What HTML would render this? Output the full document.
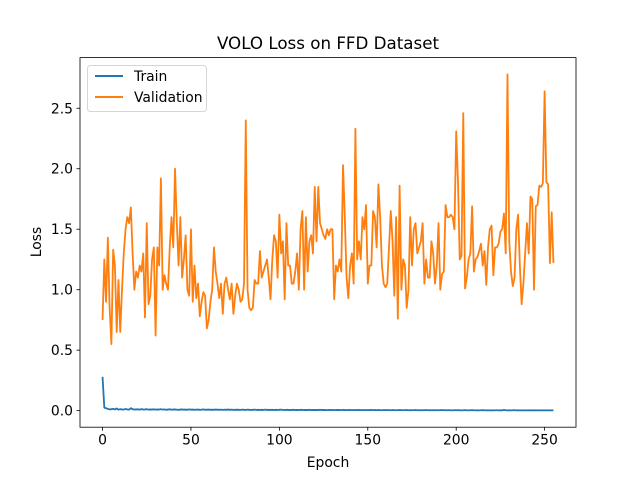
<!DOCTYPE html>
<html><head><meta charset="utf-8"><style>
body{margin:0;background:#fff}
svg{display:block;font-family:"DejaVu Sans","Liberation Sans",sans-serif}
</style></head><body>
<svg id="chart" width="640" height="480">
<rect width="640" height="480" fill="#fff"/>
<text x="328" y="49" font-size="16.7" text-anchor="middle">VOLO Loss on FFD Dataset</text>
<g id="plot"></g>
<text x="328" y="467" font-size="13.9" text-anchor="middle">Epoch</text>
<text x="0" y="0" font-size="13.9" text-anchor="middle" transform="translate(41,242) rotate(-90)">Loss</text>
<g>
<rect x="87.5" y="65.5" width="119" height="46" rx="3" fill="#fff" stroke="#ccc" opacity="0.8"/>
<line x1="95" y1="76" x2="123" y2="76" stroke="#1f77b4" stroke-width="2"/>
<text x="134" y="81" font-size="13.9">Train</text>
<line x1="95" y1="97" x2="123" y2="97" stroke="#ff7f0e" stroke-width="2"/>
<text x="134" y="102" font-size="13.9">Validation</text>
</g>
</svg>
<script>
const xTicks=[0,50,100,150,200,250];
const yTicks=[0.0,0.5,1.0,1.5,2.0,2.5];
const yTickLabels=["0.0","0.5","1.0","1.5","2.0","2.5"];
const validation=[0.75,1.25,0.9,1.43,0.85,0.55,1.33,1.2,0.65,1.08,
0.65,1.0,1.3,1.5,1.6,1.55,1.68,1.3,1.0,1.15,
1.1,1.2,1.15,1.3,0.77,1.55,0.88,0.95,1.25,1.35,
0.62,1.35,1.2,1.92,1.0,1.12,1.05,1.0,1.35,1.6,
1.35,2.0,1.55,1.2,1.6,1.1,1.25,1.45,1.0,0.95,
1.5,0.9,1.2,0.93,1.05,0.78,0.9,0.98,0.95,0.68,
0.75,0.9,1.0,1.35,1.15,1.05,0.93,1.05,0.8,1.05,
1.1,1.0,0.92,1.05,0.8,0.95,1.05,1.0,0.9,0.92,
1.05,2.4,1.0,0.85,0.83,0.85,1.08,1.05,1.05,1.32,
1.1,1.15,1.2,1.25,1.1,0.92,1.25,1.45,1.4,1.1,
1.62,1.3,1.4,0.92,1.55,1.2,1.2,1.05,1.05,1.15,
1.3,1.0,1.5,1.65,1.0,1.6,1.15,1.4,1.45,1.3,
1.85,1.4,1.85,1.55,1.5,1.45,1.42,1.5,1.45,1.5,
1.5,0.92,1.2,1.15,1.25,1.15,2.03,1.6,1.1,0.93,
1.2,1.3,1.05,2.33,1.25,1.4,1.25,1.6,1.5,1.7,
1.05,1.2,1.2,1.65,1.6,1.35,1.87,1.6,1.2,1.05,
1.02,1.05,1.35,1.65,1.4,0.95,1.6,0.76,1.86,1.0,
1.25,1.2,0.85,1.0,1.6,1.2,1.5,1.55,1.3,1.35,
1.4,1.55,1.05,1.25,1.1,1.1,1.4,1.3,1.05,1.2,
1.55,1.0,1.13,1.15,1.7,1.6,1.6,1.62,1.6,1.5,
2.31,1.9,1.25,1.28,2.46,1.01,1.1,1.25,1.3,1.69,
1.15,1.25,1.27,1.32,1.38,1.2,1.32,1.04,1.35,1.5,
1.53,1.12,1.35,1.35,1.38,1.48,1.5,1.63,1.3,2.78,
1.4,1.15,1.03,1.1,1.5,1.62,1.2,0.88,1.05,1.3,
1.55,1.3,1.77,1.75,1.0,1.69,1.7,1.86,1.85,1.88,
2.64,1.89,1.87,1.22,1.64,1.22];
const train=[0.28,0.025,0.02,0.015,0.01,0.012,0.015,0.01,0.018,0.008,
0.012,0.01,0.009,0.014,0.01,0.008,0.02,0.012,0.009,0.01,
0.011,0.008,0.013,0.009,0.01,0.012,0.008,0.01,0.009,0.011,
0.008,0.01,0.009,0.012,0.008,0.01,0.007,0.009,0.011,0.008,
0.009,0.01,0.008,0.007,0.009,0.01,0.008,0.009,0.007,0.01,
0.008,0.009,0.007,0.008,0.009,0.007,0.008,0.01,0.007,0.008,
0.009,0.007,0.008,0.007,0.009,0.008,0.007,0.008,0.006,0.008,
0.007,0.009,0.007,0.008,0.006,0.007,0.008,0.007,0.006,0.008,
0.007,0.006,0.008,0.007,0.006,0.007,0.008,0.006,0.007,0.006,
0.007,0.006,0.008,0.006,0.007,0.006,0.007,0.005,0.007,0.006,
0.007,0.008,0.006,0.005,0.007,0.006,0.005,0.006,0.007,0.005,
0.006,0.005,0.007,0.006,0.005,0.006,0.005,0.007,0.005,0.006,
0.005,0.006,0.005,0.007,0.005,0.006,0.005,0.004,0.006,0.005,
0.006,0.004,0.005,0.006,0.005,0.004,0.006,0.005,0.004,0.005,
0.006,0.004,0.005,0.004,0.006,0.005,0.004,0.005,0.004,0.005,
0.004,0.005,0.006,0.004,0.005,0.004,0.005,0.004,0.003,0.005,
0.004,0.005,0.004,0.003,0.005,0.004,0.003,0.004,0.005,0.004,
0.003,0.004,0.005,0.003,0.004,0.003,0.004,0.005,0.003,0.004,
0.003,0.004,0.003,0.005,0.003,0.004,0.003,0.004,0.003,0.004,
0.003,0.004,0.005,0.003,0.004,0.003,0.004,0.003,0.002,0.004,
0.003,0.004,0.003,0.002,0.003,0.004,0.003,0.002,0.003,0.004,
0.003,0.002,0.003,0.002,0.003,0.004,0.003,0.002,0.003,0.002,
0.003,0.002,0.003,0.003,0.002,0.003,0.002,0.006,0.003,0.002,
0.003,0.002,0.003,0.004,0.002,0.003,0.002,0.003,0.002,0.003,
0.002,0.003,0.002,0.003,0.002,0.003,0.002,0.003,0.002,0.003,
0.002,0.003,0.002,0.003,0.002,0.003];
const NS='http://www.w3.org/2000/svg';
const L=80,R=576,T=57.6,B=427.2;
const n=validation.length;
const xmin=-(n-1)*0.05,xmax=(n-1)*1.05;
const all=validation.concat(train);
const dmin=Math.min(...all),dmax=Math.max(...all);
const ymin=dmin-(dmax-dmin)*0.05,ymax=dmax+(dmax-dmin)*0.05;
const X=v=>L+(v-xmin)/(xmax-xmin)*(R-L);
const Y=v=>B-(v-ymin)/(ymax-ymin)*(B-T);
const g=document.getElementById('plot');
function mk(tag,attrs){const e=document.createElementNS(NS,tag);for(const k in attrs)e.setAttribute(k,attrs[k]);g.appendChild(e);return e;}
function line(data,color,name){
  const d=data.map((v,i)=>(i?'L':'M')+X(i).toFixed(2)+','+Y(v).toFixed(2)).join('');
  const p=mk('path',{d:d,fill:'none',stroke:color,'stroke-width':1.8,'stroke-linejoin':'round'});
  
  
}
line(train,'#1f77b4','train-line');
line(validation,'#ff7f0e','validation-line');
const frame=mk('rect',{x:L,y:T,width:R-L,height:B-T,fill:'none',stroke:'#000','stroke-width':0.8});


xTicks.forEach(t=>{
  mk('line',{x1:X(t),y1:B,x2:X(t),y2:B+3.5,stroke:'#000','stroke-width':0.8});
  const tx=mk('text',{x:X(t),y:B+17.5,'font-size':13.9,'text-anchor':'middle'});
  tx.textContent=String(t);
  
  
});
yTicks.forEach((t,i)=>{
  mk('line',{x1:L-3.5,y1:Y(t),x2:L,y2:Y(t),stroke:'#000','stroke-width':0.8});
  const tx=mk('text',{x:L-7,y:Y(t)+5,'font-size':13.9,'text-anchor':'end'});
  tx.textContent=yTickLabels[i];
  
  
});
</script>
</body></html>
